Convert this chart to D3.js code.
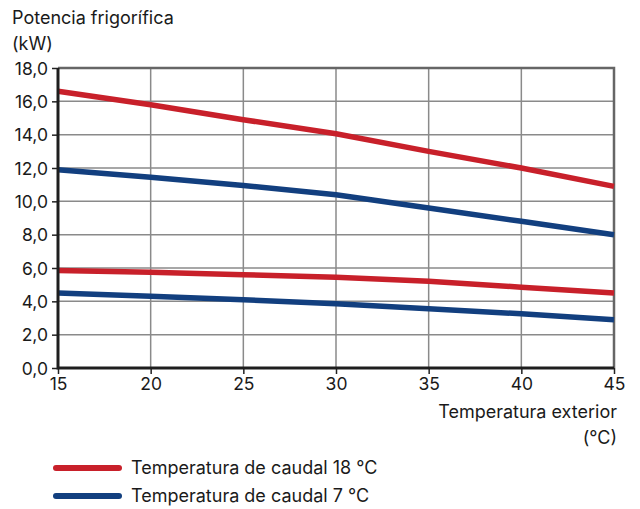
<!DOCTYPE html>
<html>
<head>
<meta charset="utf-8">
<script src="https://cdn.jsdelivr.net/npm/d3@7"></script>
<style>
  body { margin: 0; background: #fff; }
  text { font-family: Inter, "Noto Sans", sans-serif; fill: #1a1a1a; }
</style>
</head>
<body>
<div id="container"></div>
<script>
const width = 640;
const height = 509;
const margin = {top: 68, right: 26, bottom: 141, left: 58};

// chart data
const temps = [15, 20, 25, 30, 35, 40, 45];
const yTicks = [0, 2, 4, 6, 8, 10, 12, 14, 16, 18];
const red18High = [16.6, 15.8, 14.9, 14.05, 13.0, 12.0, 10.9];
const blue7High = [11.9, 11.45, 10.95, 10.4, 9.6, 8.8, 8.0];
const red18Low = [5.85, 5.75, 5.6, 5.45, 5.2, 4.85, 4.5];
const blue7Low = [4.5, 4.3, 4.1, 3.85, 3.55, 3.25, 2.9];
const legendLabels = ["Temperatura de caudal 18 °C", "Temperatura de caudal 7 °C"];

const red = "#c8202a";
const blue = "#123f7f";

let svg = d3.select("#container")
	.append("svg")
	.attr("width", width)
	.attr("height", height);

const x = d3.scaleLinear()
	.domain([15, 45])
	.range([margin.left, width - margin.right]);

const y = d3.scaleLinear()
	.domain([0, 18])
	.range([height - margin.bottom, margin.top]);

// grid lines
svg.append("g")
	.selectAll("line")
	.data(temps.slice(1, -1))
	.enter().append("line")
	.attr("x1", d => x(d)).attr("x2", d => x(d))
	.attr("y1", y(18)).attr("y2", y(0))
	.attr("stroke", "#8a8a8a").attr("stroke-width", 1.5);

svg.append("g")
	.selectAll("line")
	.data(yTicks.slice(1, -1))
	.enter().append("line")
	.attr("x1", x(15)).attr("x2", x(45))
	.attr("y1", d => y(d)).attr("y2", d => y(d))
	.attr("stroke", "#8a8a8a").attr("stroke-width", 1.5);

// top and right border
svg.append("path")
	.attr("d", `M${x(15)},${y(18)}H${x(45)}V${y(0)}`)
	.attr("fill", "none")
	.attr("stroke", "#666")
	.attr("stroke-width", 2.5);

// lines
const line = d3.line()
	.x((d, i) => x(temps[i]))
	.y(d => y(d));

[[red18High, red], [blue7High, blue], [red18Low, red], [blue7Low, blue]].forEach(function(s) {
	svg.append("path")
		.datum(s[0])
		.attr("d", line)
		.attr("fill", "none")
		.attr("stroke", s[1])
		.attr("stroke-width", 5.5);
});

// axes
const yAxis = d3.axisLeft(y)
	.tickValues(yTicks)
	.tickSize(6)
	.tickFormat(d => d3.format(".1f")(d).replace(".", ","));

const xAxis = d3.axisBottom(x)
	.tickValues(temps)
	.tickSize(6)
	.tickFormat(d3.format("d"));

let gy = svg.append("g")
	.attr("transform", `translate(${x(15)},0)`)
	.call(yAxis);
gy.select(".domain").remove();
gy.selectAll(".tick line").attr("stroke", "#222").attr("stroke-width", 1.5);
gy.selectAll(".tick text")
	.attr("x", -10)
	.attr("dy", "0.36em")
	.style("font-size", "17.5px");

let gx = svg.append("g")
	.attr("transform", `translate(0,${y(0)})`)
	.call(xAxis);
gx.select(".domain").remove();
gx.selectAll(".tick line").attr("stroke", "#222").attr("stroke-width", 1.5);
gx.selectAll(".tick text")
	.attr("y", 10)
	.attr("dy", "0.71em")
	.style("font-size", "17.5px");

// dark left and bottom axis lines
svg.append("path")
	.attr("d", `M${x(15)},${y(18)}V${y(0)}H${x(45)}`)
	.attr("fill", "none")
	.attr("stroke", "#1e1e1e")
	.attr("stroke-width", 3);

// titles
svg.append("text").attr("x", 12).attr("y", 24).style("font-size", "18px").text("Potencia frigorífica");
svg.append("text").attr("x", 12).attr("y", 50).style("font-size", "18px").text("(kW)");
svg.append("text").attr("x", 617).attr("y", 418).attr("text-anchor", "end").style("font-size", "18px").text("Temperatura exterior");
svg.append("text").attr("x", 617).attr("y", 444).attr("text-anchor", "end").style("font-size", "18px").text("(°C)");

// legend
let legend = svg.append("g")
	.selectAll("g")
	.data(legendLabels)
	.enter().append("g")
	.attr("transform", (d, i) => `translate(0,${468 + i * 28})`);

legend.append("line")
	.attr("x1", 56).attr("x2", 119)
	.attr("stroke", (d, i) => i === 0 ? red : blue)
	.attr("stroke-width", 6)
	.attr("stroke-linecap", "round");

legend.append("text")
	.attr("x", 131)
	.attr("dy", "0.36em")
	.style("font-size", "18px")
	.text(d => d);
</script>
</body>
</html>
